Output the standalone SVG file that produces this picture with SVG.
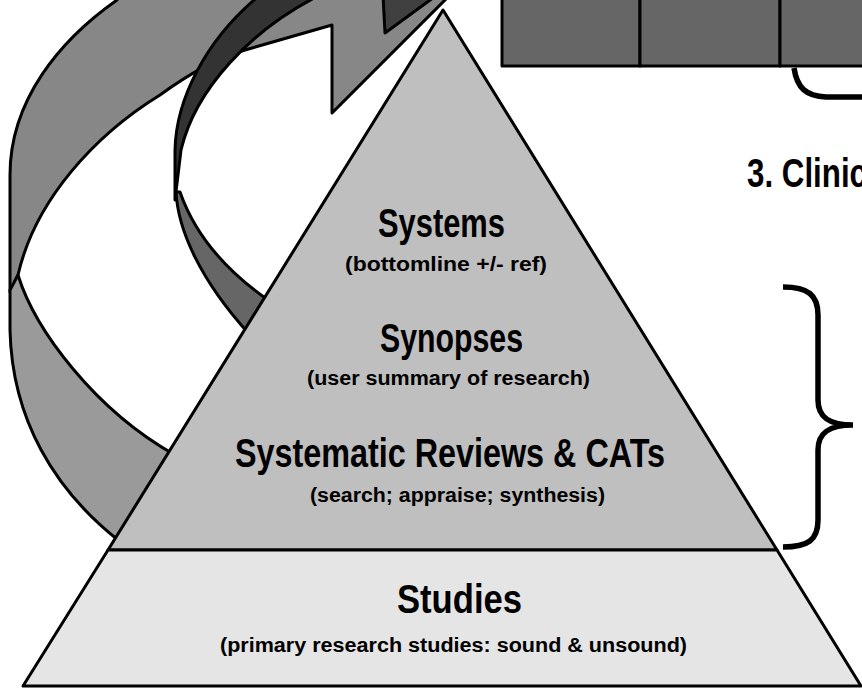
<svg xmlns="http://www.w3.org/2000/svg" width="862" height="688" viewBox="0 0 862 688">
<style>
.ol{stroke:#000;stroke-width:3;stroke-linejoin:round}
.t{font-family:"Liberation Sans",Arial,sans-serif;font-weight:bold;fill:#000;text-anchor:middle}
.big{font-size:40px}
.sm{font-size:20px}
.br{fill:none;stroke:#000;stroke-width:5.5;stroke-linecap:butt}
</style>
<rect width="862" height="688" fill="#fff"/>
<g id="cycle-arrow">
  <path class="ol" fill="#878787" d="M10,292 L10,175 C10,100 60,40 117,0 L120,-5 L450,-5 L332,113 L332,25 L245,50 Q205,62 160,95 C95,135 35,200 18,275 Z"/>
  <path class="ol" fill="#9a9a9a" d="M18,275 L10,290 L10,330 C12,420 55,490 118,540 L175,455 C95,410 35,330 18,275 Z"/>
  <path class="ol" fill="#404040" d="M383,-5 L385,33 L437,-5 Z"/>
  <path class="ol" fill="#333333" d="M175,200 L175,150 C176,100 205,40 260,-5 L320,-5 C250,30 195,90 181,150 Z"/>
  <path class="ol" fill="#666666" d="M176,192 C178,230 200,280 250,335 L268,300 C225,270 195,235 180,192 Z"/>
</g>
<g id="pyramid-top">
  <path class="ol" fill="#bfbfbf" d="M443,10 L777,550 L108,550 Z"/>
</g>
<g id="pyramid-base">
  <path class="ol" fill="#e5e5e5" d="M108,550 L777,550 L861,686 L23,686 Z"/>
</g>
<g id="boxes">
  <rect class="ol" fill="#666666" x="502" y="-5" width="138" height="71"/>
  <rect class="ol" fill="#666666" x="640" y="-5" width="140" height="71"/>
  <rect class="ol" fill="#666666" x="780" y="-5" width="90" height="71"/>
</g>
<g id="connectors">
  <path class="br" d="M794,68 C797,88 806,96 826,97 L866,97"/>
  <path class="br" d="M783,287 C808,287 818,295 818,315 L818,400 C818,418 830,425 853,425 C830,425 818,432 818,450 L818,520 C818,540 808,547 783,547"/>
</g>
<g id="labels">
  <text class="t big" x="441.5" y="237" textLength="127" lengthAdjust="spacingAndGlyphs">Systems</text>
  <text class="t sm" x="446" y="271" textLength="202" lengthAdjust="spacingAndGlyphs">(bottomline +/- ref)</text>
  <text class="t big" x="451.5" y="352" textLength="143" lengthAdjust="spacingAndGlyphs">Synopses</text>
  <text class="t sm" x="448.5" y="385" textLength="283" lengthAdjust="spacingAndGlyphs">(user summary of research)</text>
  <text class="t big" x="450" y="467" textLength="430" lengthAdjust="spacingAndGlyphs">Systematic Reviews &amp; CATs</text>
  <text class="t sm" x="457.5" y="502" textLength="295" lengthAdjust="spacingAndGlyphs">(search; appraise; synthesis)</text>
  <text class="t big" x="459.5" y="613" textLength="125" lengthAdjust="spacingAndGlyphs">Studies</text>
  <text class="t sm" x="453.5" y="652" textLength="467" lengthAdjust="spacingAndGlyphs">(primary research studies: sound &amp; unsound)</text>
  <text class="t big" x="747" y="187" style="text-anchor:start" textLength="120" lengthAdjust="spacingAndGlyphs">3. Clinic</text>
</g>
</svg>
